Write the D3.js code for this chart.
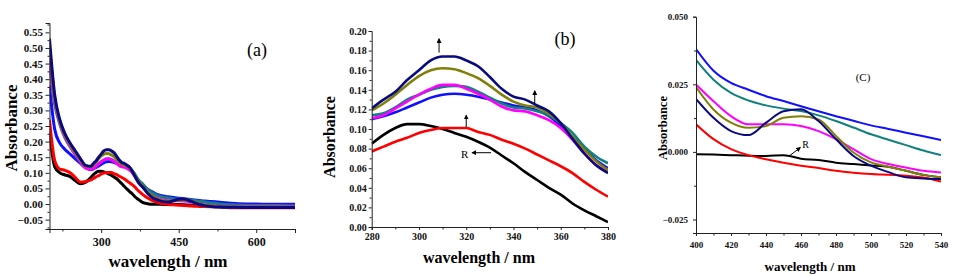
<!DOCTYPE html>
<html>
<head>
<meta charset="utf-8">
<script src="https://cdn.jsdelivr.net/npm/d3@7"></script>
<style>
  body { margin: 0; background: #fff; }
  svg { display: block; }
  text { font-family: "Liberation Serif", "Times New Roman", serif; }
</style>
</head>
<body>
<svg id="fig" width="954" height="276"></svg>
<script>
// shared wavelength grid (nm), every panel shows a window of it
const wavelength = [200,210,220,230,240,250,260,270,
  280,285,290,295,300,305,310,315,320,325,330,335,340,345,350,355,360,365,370,375,380,
  390,
  400,410,420,430,440,450,460,470,480,490,500,510,520,530,540,
  560,600,640,675];

const absBlack = [0.23,0.12,0.10,0.093,0.088,0.075,0.065,0.07,
  0.085,0.094,0.101,0.105,0.105,0.103,0.100,0.096,0.092,0.087,0.081,0.073,0.065,0.056,0.048,0.040,0.033,0.024,0.017,0.011,0.005,
  0.001,
  -0.0009,-0.001,-0.0012,-0.0014,-0.0015,-0.0012,-0.0025,-0.003,-0.004,-0.0045,-0.005,-0.0055,-0.007,-0.0085,-0.0094,
  -0.010,-0.010,-0.010,-0.010];
const absRed = [0.27,0.14,0.112,0.108,0.10,0.085,0.07,0.072,
  0.077,0.082,0.087,0.091,0.096,0.099,0.101,0.101,0.101,0.097,0.094,0.089,0.085,0.080,0.074,0.068,0.062,0.055,0.046,0.038,0.031,
  0.019,
  0.0102,0.0047,0.001,-0.0012,-0.0027,-0.004,-0.0051,-0.006,-0.007,-0.0077,-0.0082,-0.0085,-0.0088,-0.0095,-0.011,
  -0.012,-0.012,-0.012,-0.012];
const absBlue = [0.38,0.24,0.195,0.175,0.16,0.145,0.13,0.116,
  0.110,0.113,0.117,0.122,0.127,0.132,0.135,0.136,0.135,0.133,0.130,0.127,0.124,0.122,0.119,0.113,0.103,0.092,0.080,0.068,0.060,
  0.047,
  0.038,0.030,0.0255,0.023,0.0206,0.0188,0.0169,0.015,0.0132,0.0115,0.0098,0.0085,0.0071,0.0058,0.0044,
  0.002,0.000,-0.001,-0.001];
const absTeal = [0.44,0.32,0.255,0.212,0.183,0.158,0.135,0.118,
  0.114,0.116,0.122,0.130,0.135,0.140,0.143,0.144,0.143,0.138,0.132,0.126,0.122,0.121,0.118,0.114,0.106,0.096,0.082,0.072,0.065,
  0.046,
  0.034,0.0267,0.0218,0.019,0.0172,0.016,0.0151,0.0135,0.0114,0.009,0.0065,0.0045,0.0025,0.0005,-0.0012,
  -0.003,-0.005,-0.005,-0.006];
const absMagenta = [0.46,0.33,0.26,0.215,0.185,0.16,0.135,0.115,
  0.111,0.114,0.121,0.128,0.135,0.141,0.145,0.145,0.141,0.136,0.130,0.123,0.119,0.118,0.114,0.109,0.101,0.089,0.075,0.063,0.056,
  0.037,
  0.0249,0.0187,0.0132,0.0102,0.0102,0.0102,0.0096,0.0077,0.0047,0.001,-0.0027,-0.0045,-0.0058,-0.007,-0.0076,
  -0.008,-0.009,-0.009,-0.009];
const absOlive = [0.50,0.34,0.265,0.22,0.19,0.165,0.14,0.122,
  0.119,0.126,0.135,0.145,0.154,0.160,0.162,0.161,0.157,0.152,0.144,0.135,0.128,0.124,0.122,0.116,0.106,0.092,0.079,0.067,0.058,
  0.038,
  0.024,0.0157,0.0108,0.0089,0.0096,0.0126,0.0132,0.0120,0.0059,-0.0002,-0.0039,-0.0055,-0.0070,-0.0085,-0.0094,
  -0.0098,-0.010,-0.010,-0.010];
const absNavy = [0.53,0.35,0.27,0.225,0.195,0.17,0.145,0.124,
  0.121,0.130,0.138,0.150,0.160,0.170,0.174,0.174,0.170,0.164,0.153,0.141,0.133,0.130,0.124,0.118,0.106,0.090,0.075,0.063,0.055,
  0.034,
  0.0196,0.0126,0.0077,0.0062,0.0108,0.0150,0.0158,0.0114,0.0047,-0.0015,-0.0051,-0.0075,-0.0094,-0.0098,-0.0100,
  -0.0105,-0.011,-0.011,-0.011];

const seriesValues = [absBlack, absRed, absBlue, absTeal, absMagenta, absOlive, absNavy];
const seriesColors = ["#000000", "#ff0000", "#1010ff", "#118080", "#ff00ff", "#808008", "#0a0a80"];

// tick values
const xTicksA = [300, 450, 600], xMinorA = [225, 375, 525, 675];
const yTicksA = d3.range(-0.05, 0.551, 0.05), yMinorA = d3.range(-0.075, 0.58, 0.05);
const xTicksB = d3.range(280, 381, 20), xMinorB = d3.range(290, 380, 20);
const yTicksB = d3.range(0, 0.2001, 0.02), yMinorB = d3.range(0.01, 0.2, 0.02);
const xTicksC = d3.range(400, 541, 20), xMinorC = d3.range(410, 540, 20);
const yTicksC = [-0.025, 0, 0.025, 0.05], yMinorC = [-0.0125, 0.0125, 0.0375];

// annotations, in data units
const arrowsB = [
  { x1: 308.5, y1: 0.178, x2: 308.5, y2: 0.192 },
  { x1: 349, y1: 0.126, x2: 349, y2: 0.139 },
  { x1: 320, y1: 0.102, x2: 320, y2: 0.114 },
  { x1: 330.5, y1: 0.0758, x2: 322.5, y2: 0.0758 }
];
const labelsB = [{ x: 319.3, y: 0.0740, text: "R" }];
const arrowsC = [{ x1: 453.3, y1: -0.0015, x2: 459.6, y2: 0.0016 }];
const labelsC = [{ x: 462.6, y: 0.0027, text: "R" }];

const serif = "'Liberation Serif', 'Times New Roman', serif";

const svg = d3.select("#fig");
const defs = svg.append("defs");
defs.append("marker")
  .attr("id", "head")
  .attr("viewBox", "0 0 6 6")
  .attr("refX", 5).attr("refY", 3)
  .attr("markerWidth", 5).attr("markerHeight", 5)
  .attr("orient", "auto")
  .append("path").attr("d", "M0,0L6,3L0,6Z").attr("fill", "#000");

const panels = [
  {
    id: "a", xDomain: [200, 675], yDomain: [-0.08, 0.58],
    xRange: [49.5, 295], yRange: [229, 23],
    xTicks: xTicksA, xMinor: xMinorA, yTicks: yTicksA, yMinor: yMinorA,
    xFmt: d3.format("d"), yFmt: d3.format(".2f"),
    xFont: 12, yFont: 11, xPad: 4, yPad: 2.5, tick: 4,
    lineWidth: 3,
    yLabel: { x: 11, y: 128, size: 17 }, xLabel: { x: 168, y: 267, size: 17 },
    tag: { text: "(a)", x: 257, y: 56, size: 18 },
    arrows: [], labels: [], labelSize: 11
  },
  {
    id: "b", xDomain: [280, 380], yDomain: [0, 0.2],
    xRange: [371.7, 608], yRange: [227, 31],
    xTicks: xTicksB, xMinor: xMinorB, yTicks: yTicksB, yMinor: yMinorB,
    xFmt: d3.format("d"), yFmt: d3.format(".2f"),
    xFont: 10, yFont: 10, xPad: 3, yPad: 2, tick: 3,
    lineWidth: 2.6,
    yLabel: { x: 329, y: 137, size: 16 }, xLabel: { x: 479, y: 263, size: 16 },
    tag: { text: "(b)", x: 565, y: 45, size: 18 },
    arrows: arrowsB, labels: labelsB, labelSize: 11
  },
  {
    id: "c", xDomain: [400, 540], yDomain: [-0.03, 0.05],
    xRange: [696, 941], yRange: [233, 16.7],
    xTicks: xTicksC, xMinor: xMinorC, yTicks: yTicksC, yMinor: yMinorC,
    xFmt: d3.format("d"), yFmt: d3.format(".3f"),
    xFont: 9, yFont: 9, xPad: 6, yPad: 5, tick: 3,
    lineWidth: 2,
    yLabel: { x: 663, y: 128, size: 12.5 }, xLabel: { x: 810, y: 271, size: 13 },
    tag: { text: "(C)", x: 863, y: 81, size: 11 },
    arrows: arrowsC, labels: labelsC, labelSize: 10
  }
];

panels.forEach(p => {
  const x = d3.scaleLinear().domain(p.xDomain).range(p.xRange);
  const y = d3.scaleLinear().domain(p.yDomain).range(p.yRange);
  const g = svg.append("g").attr("class", "panel-" + p.id);

  defs.append("clipPath").attr("id", "clip-" + p.id)
    .append("rect")
    .attr("x", p.xRange[0]).attr("y", p.yRange[1])
    .attr("width", p.xRange[1] - p.xRange[0])
    .attr("height", p.yRange[0] - p.yRange[1]);

  // curves
  const line = d3.line()
    .x(d => x(d[0]))
    .y(d => y(d[1]))
    .curve(d3.curveMonotoneX);

  const plot = g.append("g").attr("clip-path", `url(#clip-${p.id})`);
  seriesValues.forEach((vals, i) => {
    const pts = wavelength.map((w, k) => [w, vals[k]])
      .filter((d, k) => {
        const prev = wavelength[k - 1], next = wavelength[k + 1];
        return (d[0] >= p.xDomain[0] && d[0] <= p.xDomain[1]) ||
          (next !== undefined && next > p.xDomain[0] && d[0] < p.xDomain[0]) ||
          (prev !== undefined && prev < p.xDomain[1] && d[0] > p.xDomain[1]);
      });
    plot.append("path")
      .datum(pts)
      .attr("fill", "none")
      .attr("stroke", seriesColors[i])
      .attr("stroke-width", p.lineWidth)
      .attr("stroke-linejoin", "round")
      .attr("d", line);
  });

  // axes
  const xAxis = g.append("g")
    .attr("transform", `translate(0,${p.yRange[0]})`)
    .call(d3.axisBottom(x).tickValues(p.xTicks).tickFormat(p.xFmt)
      .tickSize(p.tick).tickPadding(p.xPad));
  xAxis.selectAll("text").style("font-size", p.xFont + "px").style("font-weight", "bold")
    .style("font-family", serif).attr("fill", "#111");
  g.append("g")
    .attr("transform", `translate(0,${p.yRange[0]})`)
    .call(d3.axisBottom(x).tickValues(p.xMinor).tickFormat("").tickSize(2.5).tickSizeOuter(0))
    .select(".domain").remove();

  const yAxis = g.append("g")
    .attr("transform", `translate(${p.xRange[0]},0)`)
    .call(d3.axisLeft(y).tickValues(p.yTicks).tickFormat(p.yFmt)
      .tickSize(p.tick).tickPadding(p.yPad));
  yAxis.selectAll("text").style("font-size", p.yFont + "px").style("font-weight", "bold")
    .style("font-family", serif).attr("fill", "#111");
  g.append("g")
    .attr("transform", `translate(${p.xRange[0]},0)`)
    .call(d3.axisLeft(y).tickValues(p.yMinor).tickFormat("").tickSize(2).tickSizeOuter(0))
    .select(".domain").remove();

  g.selectAll(".domain").attr("stroke", "#222");
  g.selectAll(".tick line").attr("stroke", "#222");

  // axis titles
  g.append("text")
    .attr("transform", `translate(${p.yLabel.x},${p.yLabel.y}) rotate(-90)`)
    .attr("text-anchor", "middle")
    .attr("dominant-baseline", "central")
    .attr("font-size", p.yLabel.size)
    .attr("font-weight", "bold")
    .text("Absorbance");
  g.append("text")
    .attr("x", p.xLabel.x).attr("y", p.xLabel.y)
    .attr("text-anchor", "middle")
    .attr("font-size", p.xLabel.size)
    .attr("font-weight", "bold")
    .text("wavelength / nm");

  g.append("text")
    .attr("x", p.tag.x).attr("y", p.tag.y)
    .attr("text-anchor", "middle")
    .attr("font-size", p.tag.size)
    .text(p.tag.text);

  // arrows and labels
  g.selectAll("line.arrow")
    .data(p.arrows)
    .enter().append("line")
    .attr("class", "arrow")
    .attr("x1", d => x(d.x1)).attr("y1", d => y(d.y1))
    .attr("x2", d => x(d.x2)).attr("y2", d => y(d.y2))
    .attr("stroke", "#000").attr("stroke-width", 1)
    .attr("marker-end", "url(#head)");
  g.selectAll("text.note")
    .data(p.labels)
    .enter().append("text")
    .attr("class", "note")
    .attr("x", d => x(d.x)).attr("y", d => y(d.y))
    .attr("text-anchor", "middle")
    .attr("dominant-baseline", "central")
    .attr("font-size", p.labelSize)
    .text(d => d.text);
});
</script>
</body>
</html>
